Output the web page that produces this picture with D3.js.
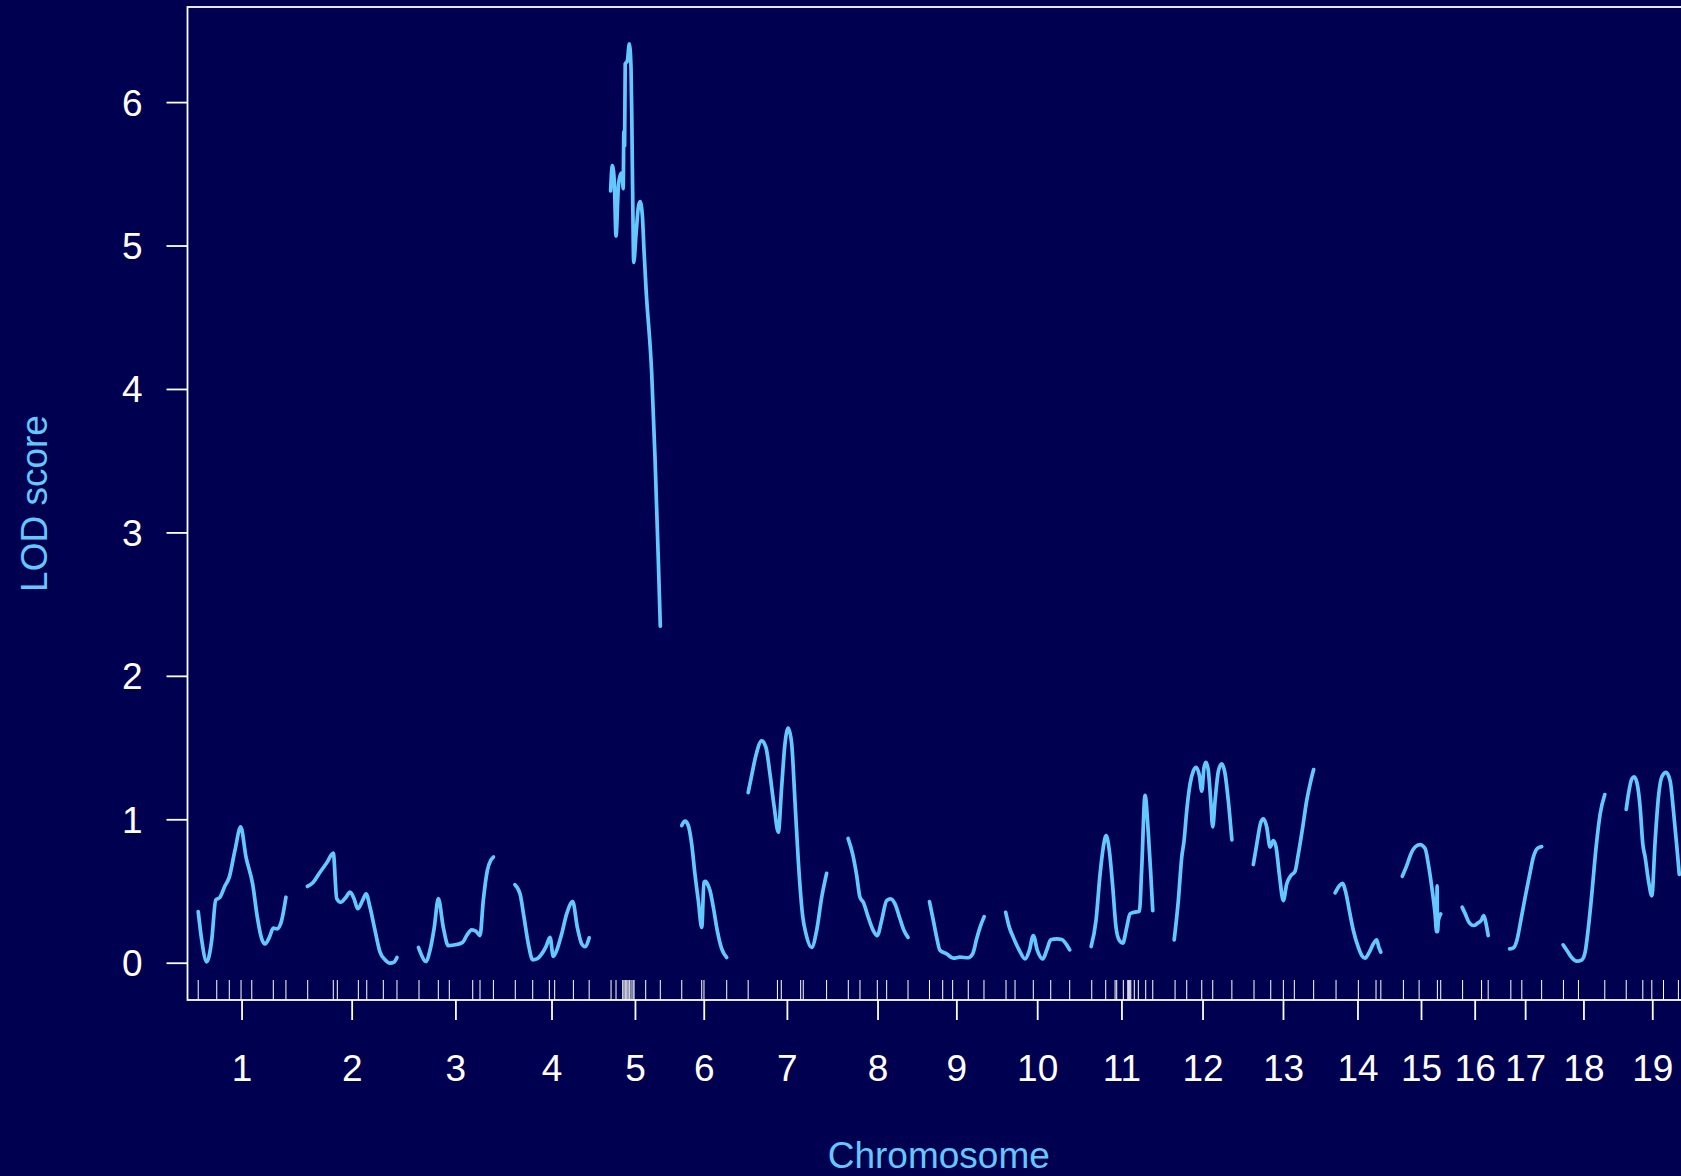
<!DOCTYPE html>
<html>
<head>
<meta charset="utf-8">
<script src="https://cdn.jsdelivr.net/npm/d3@7"></script>
<style>
  html, body { margin: 0; padding: 0; background: #000050; overflow: hidden; }
  svg { display: block; }
  text { font-family: "Liberation Sans", Arial, Helvetica, sans-serif; }
</style>
</head>
<body>
<svg id="chart" width="1681" height="1176"></svg>
<script>
// Genome scan: LOD score along the mouse autosomes (positions in cM)
const chrNames = ["1","2","3","4","5","6","7","8","9","10","11","12","13","14","15","16","17","18","19"];
const chrLengths = [102.2,104.4,87.4,86.6,57.9,52.4,91.4,69.9,63.8,74.6,71.8,67.2,70.3,53.3,44.8,30.3,37.3,48.6,61.8];
const chrGap = 25;

// Positions (cM from the start of each chromosome) of the LOD profile
const lodPos = [
  [0,4.1,9.9,15.7,20.4,25.4,31.2,36.2,42.9,49.5,55.7,63.5,68.9,74.0,77.9,82.9,87.5,92.2,97.3,102.2],
  [0,6.9,14.7,22.6,30.2,34.2,38.9,45.0,49.7,54.4,58.7,64.5,68.4,73.0,78.8,84.7,90.5,96.3,101.0,104.4],
  [0,3.8,8.5,13.5,18.5,23.2,29.0,34.8,44.6,51.6,56.3,62.1,67.1,71.8,75.6,80.3,84.6,87.4],
  [0,6.0,10.7,15.7,20.8,25.5,31.3,36.3,41.0,44.8,48.8,54.6,60.4,67.4,72.8,77.9,81.8,86.6],
  [0,2.0,4.3,6.3,9.0,11.0,13.3,14.7,15.4,16.3,17.0,19.5,21.8,23.8,24.9,25.8,26.9,29.6,32.3,34.3,36.9,38.9,41.3,47.9,51.7,55.6,57.9],
  [0,3.8,7.6,11.6,15.4,19.3,23.3,25.9,27.8,30.5,32.9,36.8,41.4,46.6,52.4],
  [0,4.1,9.1,15.7,20.7,25.4,30.4,35.1,39.0,42.9,46.7,50.7,54.5,58.4,63.5,67.4,74.0,79.8,85.7,91.4],
  [0,5.4,10.1,13.9,17.8,23.6,29.4,34.1,39.2,45.0,49.7,54.7,60.5,65.2,69.9],
  [0,4.4,8.4,12.2,20.0,27.7,35.5,45.2,50.3,55.0,58.9,63.8],
  [0,4.3,8.9,15.9,22.6,27.6,32.2,36.9,43.2,47.8,52.5,59.5,65.3,70.3,74.6],
  [0,5.7,10.4,14.2,17.4,21.2,25.2,29.0,32.9,36.8,41.5,45.3,50.0,56.2,59.0,62.8,66.7,69.5,71.8],
  [0,4.8,8.8,11.5,14.6,18.5,22.3,25.5,29.3,32.1,34.8,37.1,39.8,42.6,44.9,47.6,51.5,55.4,59.3,63.1,67.2],
  [0,4.7,8.6,11.7,15.6,19.5,23.3,26.5,30.3,35.0,38.9,43.6,48.6,52.4,57.6,62.2,66.9,70.3],
  [0,5.0,8.5,12.4,16.6,21.3,27.1,31.1,34.9,39.9,44.6,48.5,51.0,53.3],
  [0,5.2,9.9,14.9,20.7,26.6,30.4,34.4,38.2,40.0,40.6,41.0,42.1,44.8],
  [0,3.6,7.9,13.3,18.0,22.3,25.2,27.7,30.3],
  [0,4.4,8.4,13.1,18.1,23.1,27.7,32.4,37.3],
  [0,5.1,10.2,16.0,21.9,25.7,29.5,33.5,38.5,43.2,48.6],
  [0,2.6,6.5,9.2,12.4,16.2,19.3,22.0,25.9,29.8,33.7,37.5,41.5,46.5,51.2,55.0,59.0,61.8]
];

// LOD scores at those positions
const lodScores = [
  [0.36,0.16,0.01,0.16,0.44,0.46,0.54,0.60,0.79,0.95,0.74,0.55,0.32,0.17,0.135,0.18,0.244,0.24,0.30,0.46],
  [0.535,0.565,0.634,0.70,0.767,0.45,0.425,0.46,0.495,0.45,0.38,0.44,0.484,0.39,0.23,0.077,0.024,0.0,0.007,0.04],
  [0.11,0.054,0.012,0.09,0.25,0.45,0.25,0.123,0.13,0.146,0.193,0.233,0.223,0.193,0.437,0.646,0.72,0.74],
  [0.548,0.484,0.32,0.135,0.024,0.03,0.065,0.116,0.18,0.047,0.09,0.205,0.344,0.43,0.25,0.135,0.116,0.177],
  [5.385,5.56,5.45,5.07,5.41,5.49,5.51,5.40,5.80,5.70,6.27,6.29,6.41,6.24,5.78,5.31,4.885,5.08,5.27,5.31,5.22,4.97,4.70,4.11,3.53,2.81,2.35],
  [0.96,0.99,0.96,0.83,0.62,0.437,0.25,0.565,0.57,0.545,0.507,0.39,0.228,0.10,0.04],
  [1.19,1.31,1.45,1.55,1.505,1.32,1.087,0.913,1.226,1.53,1.64,1.53,1.134,0.716,0.33,0.205,0.11,0.228,0.46,0.627],
  [0.87,0.76,0.61,0.46,0.425,0.32,0.228,0.193,0.30,0.437,0.449,0.414,0.31,0.228,0.18],
  [0.43,0.30,0.18,0.09,0.065,0.035,0.042,0.038,0.065,0.17,0.25,0.325],
  [0.355,0.25,0.18,0.09,0.03,0.09,0.193,0.09,0.03,0.09,0.163,0.17,0.165,0.135,0.093],
  [0.116,0.30,0.62,0.81,0.89,0.785,0.53,0.25,0.158,0.14,0.25,0.344,0.355,0.362,0.67,1.17,0.90,0.62,0.367],
  [0.163,0.437,0.74,0.855,1.064,1.25,1.34,1.366,1.31,1.20,1.366,1.40,1.34,1.13,0.95,1.13,1.34,1.39,1.32,1.13,0.86],
  [0.688,0.855,0.98,1.006,0.95,0.81,0.855,0.81,0.62,0.437,0.553,0.61,0.64,0.76,0.95,1.134,1.27,1.35],
  [0.49,0.54,0.557,0.495,0.367,0.228,0.11,0.054,0.035,0.077,0.135,0.163,0.11,0.077],
  [0.606,0.68,0.76,0.81,0.827,0.80,0.69,0.53,0.344,0.22,0.54,0.22,0.30,0.344],
  [0.39,0.344,0.286,0.263,0.279,0.30,0.332,0.279,0.193],
  [0.10,0.107,0.158,0.30,0.46,0.61,0.74,0.80,0.813],
  [0.128,0.084,0.038,0.014,0.024,0.077,0.25,0.484,0.81,1.04,1.176],
  [1.073,1.18,1.285,1.30,1.26,1.087,0.83,0.74,0.576,0.47,0.855,1.157,1.30,1.33,1.27,1.064,0.81,0.62]
];

// Genetic markers (cM from chromosome start)
const markerPos = [
  [0,21.6,36.2,49.9,62.4,87.5,102.2],
  [0.4,30.2,34.9,59.4,69.2,88.5,104.4],
  [0.7,23.2,36.0,63.3,71.8,87.4],
  [0.5,20.8,40.2,46.4,68.2,86.6],
  [0.5,6.3,14.1,15.6,17.1,18.8,20.3,21.8,23.8,26.1,27.3,40.9,57.9],
  [0,23.3,25.9,52.4],
  [0,34.1,38.6,61.2,64.2,91.4],
  [0.3,13.9,34.1,45.0,69.9],
  [0,15.4,27.0,45.2,63.5],
  [0.4,10.9,32.2,52.5,74.6],
  [0.7,17.0,27.9,29.8,37.5,42.7,43.8,45.0,46.2,50.3,55.0,63.6,71.8],
  [1.0,14.6,32.1,44.9,67.2],
  [0.8,20.3,35.0,47.8,70.3],
  [1.1,27.1,47.7,53.3],
  [1.3,19.6,40.9,44.8],
  [0.5,22.6,30.3],
  [1.4,14.2,37.3],
  [0.4,17.9,48.6],
  [0,19.3,29.8,43.4,60.8]
];

const yTicks = [0,1,2,3,4,5,6];

// ---- layout ----
const bg = "#000050";
const lineColor = "#64c8ff";
const fg = "#ffffff";
const plot = { left: 187.5, top: 7, right: 1690, bottom: 1000 };
const fontSize = 37;

// cumulative chromosome offsets, half a gap before the first one
const chrStart = [];
let acc = chrGap / 2;
chrLengths.forEach((L, i) => { chrStart.push(acc); acc += L + chrGap; });
const genomeLen = acc - chrGap / 2;

const x = d3.scaleLinear().domain([0, genomeLen]).range([plot.left, plot.right]);

const maxLod = d3.max(lodScores.flat());
const pad = 0.04 * maxLod;
const y = d3.scaleLinear().domain([-pad, maxLod + pad]).range([plot.bottom, plot.top]);

const svg = d3.select("#chart");
svg.append("rect").attr("width", 1681).attr("height", 1176).attr("fill", bg);

// LOD curves, one path per chromosome
const line = d3.line()
  .x(d => x(d[0]))
  .y(d => y(d[1]))
  .curve(d3.curveMonotoneX);

const curves = svg.append("g");
chrNames.forEach((name, i) => {
  const pts = lodPos[i].map((p, j) => [chrStart[i] + p, lodScores[i][j]]);
  curves.append("path")
    .attr("d", line(pts))
    .attr("fill", "none")
    .attr("stroke", lineColor)
    .attr("stroke-width", 3.7)
    .attr("stroke-linejoin", "round")
    .attr("stroke-linecap", "round");
});

// marker rug along the bottom of the plot
const rug = svg.append("g");
chrNames.forEach((name, i) => {
  markerPos[i].forEach(p => {
    const xp = x(chrStart[i] + p);
    rug.append("line")
      .attr("x1", xp).attr("x2", xp)
      .attr("y1", plot.bottom - 20).attr("y2", plot.bottom)
      .attr("stroke", fg).attr("stroke-width", 1);
  });
});

// frame
svg.append("rect")
  .attr("x", plot.left).attr("y", plot.top)
  .attr("width", plot.right - plot.left).attr("height", plot.bottom - plot.top)
  .attr("fill", "none").attr("stroke", fg).attr("stroke-width", 1.8);

// y axis
const yAxis = svg.append("g");
yTicks.forEach(t => {
  yAxis.append("line")
    .attr("x1", plot.left - 21).attr("x2", plot.left)
    .attr("y1", y(t)).attr("y2", y(t))
    .attr("stroke", fg).attr("stroke-width", 1.8);
  yAxis.append("text")
    .attr("x", plot.left - 45).attr("y", y(t) + 13)
    .attr("text-anchor", "end")
    .attr("fill", fg).attr("font-size", fontSize)
    .text(t);
});

// x axis: one tick at the middle of each chromosome
const xAxis = svg.append("g");
chrNames.forEach((name, i) => {
  const xm = x(chrStart[i] + chrLengths[i] / 2);
  xAxis.append("line")
    .attr("x1", xm).attr("x2", xm)
    .attr("y1", plot.bottom).attr("y2", plot.bottom + 20)
    .attr("stroke", fg).attr("stroke-width", 1.8);
  xAxis.append("text")
    .attr("x", xm).attr("y", plot.bottom + 80.5)
    .attr("text-anchor", "middle")
    .attr("fill", fg).attr("font-size", fontSize)
    .text(name);
});

// axis titles
svg.append("text")
  .attr("x", (plot.left + plot.right) / 2).attr("y", 1168)
  .attr("text-anchor", "middle")
  .attr("fill", lineColor).attr("font-size", fontSize)
  .text("Chromosome");

svg.append("text")
  .attr("transform", `translate(47,${(plot.top + plot.bottom) / 2}) rotate(-90)`)
  .attr("text-anchor", "middle")
  .attr("fill", lineColor).attr("font-size", fontSize)
  .text("LOD score");
</script>
</body>
</html>
